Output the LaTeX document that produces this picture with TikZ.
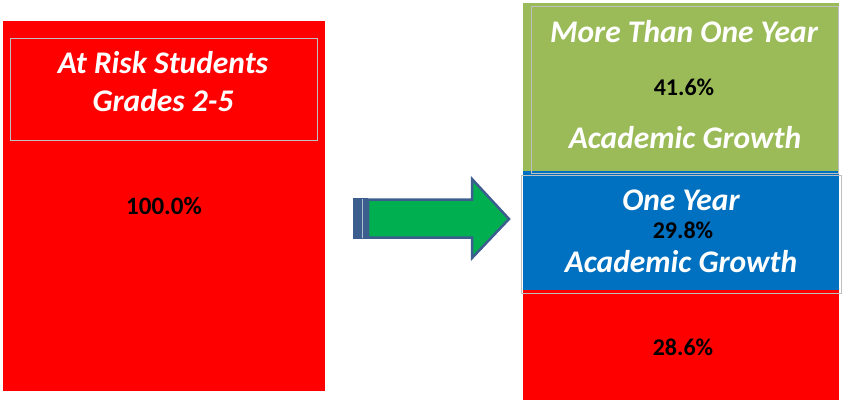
\documentclass[tikz,border=0pt]{standalone}
\usepackage{fontspec}
\setmainfont{Carlito}
\definecolor{barred}{HTML}{FF0000}
\definecolor{bargreen}{HTML}{9BBB59}
\definecolor{barblue}{HTML}{0070C0}
\definecolor{arrgreen}{HTML}{00B050}
\definecolor{arrblue}{HTML}{3B5E8F}
\definecolor{framegray}{HTML}{BFBFBF}
\tikzset{
  label/.style={text=white, font=\fontsize{31.5}{37}\selectfont\bfseries\itshape, anchor=base, inner sep=0pt},
  pct/.style={text=black, font=\fontsize{24}{28}\selectfont\bfseries, anchor=base, inner sep=0pt},
  frame/.style={draw=framegray, line width=1pt},
}
\begin{document}
\begin{tikzpicture}[x=1pt,y=-1pt]
\useasboundingbox (0,0) rectangle (845,400);
% left bar
\fill[barred] (3,21) rectangle (325,391);
\draw[frame] (10,38) rectangle (317,140);
\node[label] (t1) at (163,73) {At Risk Students};
\node[label] (t2) at (163,111) {Grades 2-5};
\node[pct, font=\fontsize{25}{29}\selectfont\bfseries] (p1) at (164,214) {100.0\%};
% right bar
\fill[bargreen] (523,3) rectangle (839,171);
\fill[barblue] (523,171) rectangle (839,290);
\fill[barred] (523,290) rectangle (839,400);
\draw[frame] (531,6) rectangle (838,173);
\draw[frame] (521,175) rectangle (841,293);
\node[label] (g1) at (684,42) {More Than One Year};
\node[pct] (g2) at (684,95) {41.6\%};
\node[label] (g3) at (685,148) {Academic Growth};
\node[label] (b1) at (681,210) {One Year};
\node[pct] (b2) at (683,238) {29.8\%};
\node[label] (b3) at (681,272) {Academic Growth};
\node[pct] (r1) at (683,355) {28.6\%};
% arrow
\fill[arrblue] (353,198) rectangle (368,239);
\draw[white!60!arrblue, line width=0.8pt] (362,199) -- (362,238);
\draw[fill=arrgreen, draw=arrblue, line width=2.5pt, line join=miter]
  (368,199.5) -- (472,199.5) -- (472,179) -- (509,219) -- (472,258) -- (472,237.5) -- (368,237.5) -- cycle;
\end{tikzpicture}
\end{document}
